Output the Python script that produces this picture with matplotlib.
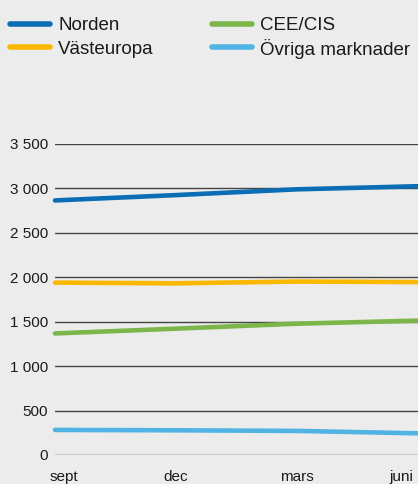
import matplotlib
matplotlib.use("Agg")
import matplotlib.pyplot as plt
import matplotlib.transforms as mtrans
from matplotlib.lines import Line2D
from matplotlib.ticker import FuncFormatter

months = ["sept", "dec", "mars", "juni"]
norden = [2865, 2925, 2990, 3025]
vasteuropa = [1940, 1932, 1952, 1946]
cee_cis = [1368, 1422, 1478, 1512]
ovriga = [282, 278, 271, 244]
series_names = ["Norden", "Västeuropa", "CEE/CIS", "Övriga marknader"]
yticks = [0, 500, 1000, 1500, 2000, 2500, 3000, 3500]

colors = ["#0a6db5", "#fbb800", "#7ab64a", "#4fb4e4"]
bg = "#ebeceb"

plt.rcParams['font.family'] = ['Liberation Sans', 'DejaVu Sans']

W, H = 418, 484
fig = plt.figure(figsize=(W/100, H/100), dpi=100, facecolor=bg)
ax = fig.add_axes([55/W, 29/H, 1 - 55/W, (455-144)/H])
ax.set_facecolor(bg)

x = list(range(len(months)))
for vals, c, name in zip([norden, vasteuropa, cee_cis, ovriga], colors, series_names):
    ax.plot(x, vals, color=c, lw=3.3, solid_capstyle='round', clip_on=False, label=name, zorder=3)

ax.set_ylim(0, 3500)
ax.set_xlim(0, 3)
ax.set_yticks(yticks)
ax.yaxis.set_major_formatter(FuncFormatter(lambda v, p: f"{int(v):,}".replace(",", " ")))
ax.grid(axis='y', color='#444444', lw=1.0)
ax.set_axisbelow(True)
for s in ax.spines.values():
    s.set_visible(False)
ax.tick_params(axis='y', length=0, pad=5, labelsize=11, colors='#1a1a1a')
ax.tick_params(axis='x', length=0, pad=11, labelsize=11, colors='#1a1a1a')
ax.set_xticks(x)
ax.set_xticklabels(months)
labs = ax.get_xticklabels()
labs[0].set_ha('left')
labs[-1].set_ha('right')
labs[0].set_transform(labs[0].get_transform() + mtrans.ScaledTranslation(-5/100, 0, fig.dpi_scale_trans))
labs[-1].set_transform(labs[-1].get_transform() + mtrans.ScaledTranslation(-5/100, 0, fig.dpi_scale_trans))

# legend (manual, in figure pixel positions)
leg_pos = [(10, 24), (10, 47), (212, 24), (212, 47)]
for (lx, ly), c, name in zip(leg_pos, colors, series_names):
    fig.add_artist(Line2D([lx/W, (lx+40)/W], [1 - ly/H, 1 - ly/H], color=c, lw=4.0,
                          solid_capstyle='round', transform=fig.transFigure))
    fig.text((lx+48)/W, 1 - ly/H, name, fontsize=13.5, va='center_baseline', ha='left', color='#1a1a1a')

fig.savefig("out.png", dpi=100, facecolor=bg)
